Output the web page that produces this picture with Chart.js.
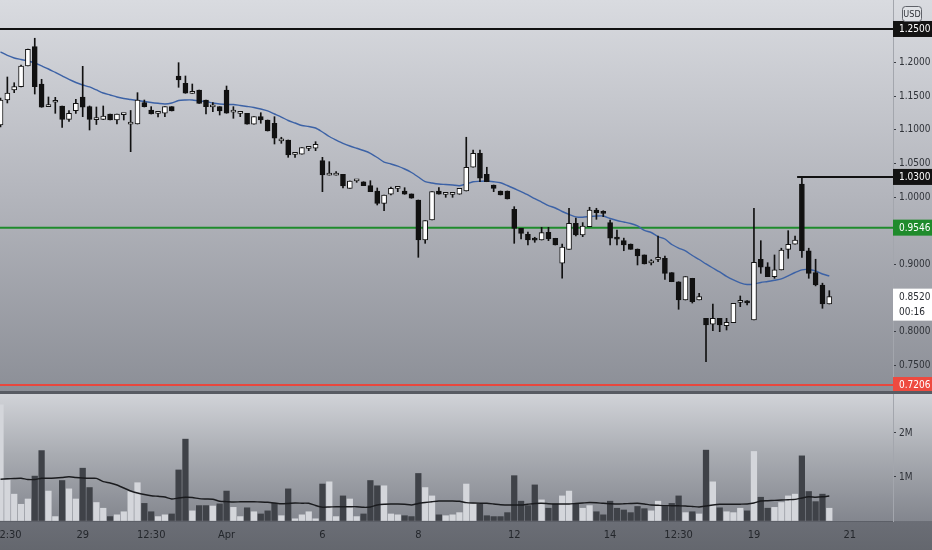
<!DOCTYPE html>
<html><head><meta charset="utf-8">
<script src="https://cdn.jsdelivr.net/npm/chart.js@4.4.1/dist/chart.umd.min.js"></script>
<style>
html,body{margin:0;padding:0;width:932px;height:550px;overflow:hidden;background:#8a8d95;}
#top{position:absolute;left:0;top:0;width:932px;height:391px;background:linear-gradient(to bottom,#d9dbe0 0%,#b3b5bc 50%,#8c8f97 100%);}
#sep{position:absolute;left:0;top:391px;width:932px;height:3px;background:#585b63;}
#bot{position:absolute;left:0;top:394px;width:932px;height:156px;background:linear-gradient(to bottom,#d1d3d8 0px,#a9acb2 60px,#83868e 127px,#6b6e76 127px,#64676e 156px);}
canvas{display:block;}
</style></head><body>
<div id="top"><canvas id="c1" width="932" height="391"></canvas></div>
<div id="sep"></div>
<div id="bot"><canvas id="c2" width="932" height="156"></canvas></div>
<script>
// ---------- data ----------
const open = [1.1072,1.1444,1.1593,1.1642,1.1950,1.2237,1.1682,1.1345,1.1410,1.1355,
1.1154,1.1285,1.1489,1.1348,1.1152,1.1157,1.1236,1.1147,1.1226,1.1085,
1.1087,1.1404,1.1296,1.1245,1.1247,1.1345,1.1801,1.1693,1.1542,1.1593,
1.1444,1.1343,1.1345,1.1593,1.1264,1.1245,1.1247,1.1083,1.1196,1.1147,
1.1098,1.0837,1.0849,1.0635,1.0637,1.0724,1.0726,1.0542,1.0327,1.0327,
1.0340,1.0131,1.0242,1.0229,1.0170,1.0091,0.9908,1.0042,1.0129,1.0091,
1.0047,0.9957,0.9362,0.9660,1.0091,1.0040,1.0040,1.0042,1.0091,1.0444,
1.0652,1.0340,1.0180,1.0091,1.0091,0.9819,0.9536,0.9447,0.9364,0.9362,
0.9477,0.9388,0.9017,0.9224,0.9611,0.9437,0.9560,0.9809,0.9762,0.9620,
0.9379,0.9352,0.9303,0.9229,0.9140,0.9023,0.9074,0.9090,0.8877,0.8742,
0.8470,0.8793,0.8470,0.8198,0.8109,0.8198,0.8088,0.8133,0.8434,0.8432,
0.8173,0.9076,0.8965,0.8817,0.8917,0.9224,0.9299,1.0195,0.9203,0.8877,
0.8693,0.8411];
const high = [1.1474,1.1786,1.1701,1.1965,1.2203,1.2362,1.1752,1.1489,1.1484,1.1355,
1.1288,1.1455,1.1945,1.1355,1.1340,1.1355,1.1236,1.1236,1.1232,1.1288,
1.1553,1.1444,1.1345,1.1249,1.1345,1.1345,1.1999,1.1801,1.1682,1.1593,
1.1444,1.1404,1.1345,1.1652,1.1345,1.1249,1.1247,1.1196,1.1255,1.1147,
1.1196,1.0890,1.0849,1.0639,1.0735,1.0728,1.0824,1.0592,1.0527,1.0378,
1.0340,1.0240,1.0246,1.0229,1.0244,1.0136,1.0032,1.0150,1.0133,1.0140,
1.0047,0.9957,0.9650,1.0081,1.0140,1.0044,1.0044,1.0131,1.0890,1.0701,
1.0701,1.0444,1.0180,1.0091,1.0091,0.9858,0.9536,0.9480,0.9403,0.9551,
0.9551,0.9388,0.9303,0.9834,0.9690,0.9621,0.9849,0.9834,0.9798,0.9660,
0.9511,0.9390,0.9303,0.9229,0.9140,0.9070,0.9422,0.9125,0.8877,0.8742,
0.8817,0.8793,0.8570,0.8198,0.8411,0.8198,0.8198,0.8421,0.8530,0.8460,
0.9834,0.9352,0.9025,0.9140,0.9240,0.9501,0.9422,1.0300,0.9240,0.9076,
0.8720,0.8609];
const low = [1.1043,1.1400,1.1553,1.1638,1.1950,1.1533,1.1336,1.1345,1.1246,1.1038,
1.1125,1.1246,1.1196,1.0998,1.1080,1.1152,1.1147,1.1087,1.1147,1.0676,
1.1087,1.1340,1.1236,1.1191,1.1196,1.1281,1.1633,1.1544,1.1542,1.1395,
1.1236,1.1270,1.1221,1.1247,1.1172,1.1196,1.1083,1.1083,1.1098,1.0983,
1.0790,1.0800,1.0592,1.0592,1.0637,1.0691,1.0691,1.0081,1.0327,1.0327,
1.0136,1.0131,1.0220,1.0170,1.0081,0.9883,0.9798,1.0032,1.0081,1.0042,
0.9983,0.9105,0.9313,0.9660,1.0042,0.9997,0.9997,1.0042,1.0091,1.0444,
1.0229,1.0229,1.0081,1.0032,0.9972,0.9313,0.9377,0.9288,0.9328,0.9362,
0.9352,0.9288,0.8793,0.9224,0.9422,0.9412,0.9560,0.9670,0.9709,0.9288,
0.9288,0.9203,0.9224,0.8991,0.9006,0.8991,0.9040,0.8778,0.8742,0.8332,
0.8470,0.8425,0.8470,0.7553,0.8014,0.7999,0.8024,0.8133,0.8371,0.8396,
0.8173,0.8867,0.8817,0.8793,0.8917,0.9090,0.9299,0.9105,0.8793,0.8680,
0.8347,0.8411];
const close = [1.1444,1.1548,1.1642,1.1950,1.2198,1.1642,1.1336,1.1350,1.1416,1.1157,
1.1246,1.1395,1.1336,1.1157,1.1157,1.1206,1.1147,1.1236,1.1232,1.1090,
1.1444,1.1345,1.1236,1.1249,1.1345,1.1281,1.1742,1.1544,1.1546,1.1395,
1.1345,1.1347,1.1281,1.1247,1.1268,1.1249,1.1083,1.1196,1.1147,1.0983,
1.0875,1.0841,1.0626,1.0639,1.0735,1.0728,1.0785,1.0329,1.0331,1.0331,
1.0165,1.0240,1.0246,1.0170,1.0081,0.9908,1.0032,1.0131,1.0133,1.0042,
0.9983,0.9362,0.9650,1.0081,1.0042,1.0044,1.0044,1.0131,1.0444,1.0652,
1.0280,1.0229,1.0131,1.0032,0.9972,0.9536,0.9462,0.9362,0.9360,0.9471,
0.9377,0.9288,0.9256,0.9611,0.9437,0.9571,0.9809,0.9769,0.9758,0.9388,
0.9375,0.9288,0.9224,0.9125,0.9006,0.9027,0.9078,0.8867,0.8742,0.8470,
0.8817,0.8445,0.8520,0.8098,0.8198,0.8098,0.8139,0.8421,0.8438,0.8428,
0.9031,0.8957,0.8817,0.8917,0.9214,0.9299,0.9362,0.9203,0.8867,0.8693,
0.8411,0.8520];
const priceMA = [1.2158,1.2106,1.2069,1.2046,1.2024,1.1994,1.1950,1.1905,1.1853,1.1801,
1.1749,1.1704,1.1667,1.1638,1.1593,1.1548,1.1519,1.1489,1.1467,1.1452,
1.1437,1.1422,1.1407,1.1395,1.1385,1.1400,1.1437,1.1444,1.1444,1.1429,
1.1422,1.1400,1.1385,1.1377,1.1377,1.1362,1.1348,1.1333,1.1310,1.1281,
1.1236,1.1191,1.1139,1.1102,1.1065,1.1050,1.1028,1.0968,1.0901,1.0849,
1.0800,1.0760,1.0726,1.0693,1.0652,1.0589,1.0522,1.0493,1.0460,1.0418,
1.0366,1.0299,1.0229,1.0210,1.0195,1.0188,1.0180,1.0170,1.0195,1.0229,
1.0235,1.0240,1.0229,1.0213,1.0173,1.0128,1.0081,1.0032,0.9976,0.9927,
0.9875,0.9838,0.9786,0.9742,0.9707,0.9700,0.9712,0.9719,0.9719,0.9682,
0.9652,0.9630,0.9608,0.9571,0.9504,0.9474,0.9414,0.9377,0.9295,0.9243,
0.9199,0.9132,0.9072,0.9006,0.8946,0.8887,0.8820,0.8768,0.8726,0.8701,
0.8708,0.8730,0.8745,0.8763,0.8783,0.8830,0.8879,0.8919,0.8923,0.8901,
0.8857,0.8827];
const volume = [2.64,0.93,0.61,0.38,0.50,1.02,1.60,0.68,0.10,0.92,
0.73,0.50,1.20,0.76,0.42,0.29,0.10,0.14,0.21,0.67,
0.87,0.40,0.21,0.10,0.14,0.16,1.16,1.86,0.23,0.35,
0.35,0.34,0.39,0.68,0.31,0.10,0.30,0.21,0.16,0.23,
0.40,0.12,0.73,0.05,0.14,0.21,0.05,0.84,0.89,0.10,
0.57,0.50,0.10,0.16,0.92,0.80,0.80,0.16,0.14,0.12,
0.10,1.08,0.76,0.57,0.14,0.12,0.14,0.19,0.84,0.39,
0.39,0.12,0.10,0.10,0.19,1.03,0.45,0.35,0.82,0.48,
0.29,0.39,0.57,0.68,0.39,0.29,0.35,0.21,0.14,0.45,
0.29,0.25,0.19,0.33,0.28,0.23,0.45,0.33,0.40,0.57,
0.19,0.21,0.16,1.61,0.89,0.30,0.21,0.19,0.29,0.23,
1.58,0.54,0.29,0.31,0.42,0.57,0.61,1.48,0.67,0.44,
0.61,0.29];
const volumeMA = [0.948,0.959,0.966,0.970,0.943,0.943,0.970,0.970,0.977,0.989,
1.005,0.989,0.977,0.970,0.970,0.893,0.864,0.818,0.750,0.682,
0.636,0.602,0.575,0.561,0.545,0.500,0.523,0.539,0.534,0.509,
0.500,0.493,0.450,0.441,0.432,0.436,0.439,0.436,0.432,0.425,
0.409,0.391,0.398,0.409,0.405,0.402,0.352,0.314,0.318,0.325,
0.325,0.325,0.325,0.311,0.318,0.364,0.382,0.386,0.386,0.380,
0.364,0.398,0.420,0.439,0.455,0.455,0.455,0.448,0.418,0.409,
0.405,0.402,0.386,0.368,0.364,0.364,0.364,0.382,0.398,0.402,
0.393,0.386,0.386,0.386,0.398,0.409,0.420,0.414,0.402,0.393,
0.386,0.391,0.398,0.402,0.386,0.364,0.357,0.350,0.348,0.345,
0.341,0.330,0.318,0.341,0.364,0.380,0.380,0.380,0.382,0.386,
0.409,0.455,0.461,0.468,0.477,0.484,0.491,0.523,0.552,0.541,
0.550,0.568];
const xTickIdx = [1,12,22,33,47,61,75,89,99,110,124];
const xTickText = ['12:30','29','12:30','Apr','6','8','12','14','12:30','19','21'];
const levelValues = [1.25, 1.03, 0.9546, 0.7206];
const levelStartIdx = [null, 116.3, null, null];
const tagValues = [1.25, 1.03, 0.9546, 0.852, 0.7206];
const tagSubText = ['', '', '', '00:16', ''];
const currency = 'USD';
const volTickValues = [1, 2];
const volTickText = ['1M', '2M'];

// ---------- styles / view ----------
const levelColors = ['#111111','#111111','#1f8b2c','#e8473e'];
const tagBg = ['#131313','#131313','#1f8b2c','#ffffff','#ee4a3f'];
const tagFg = ['#ffffff','#ffffff','#ffffff','#2a2d33','#ffffff'];
const X_MIN = -0.073, X_MAX = 130.3;
const Y_MIN = 0.7117, Y_MAX = 1.2931;
const V_MAX = 2.886;
const AXIS_W = 39;
const FONT = "'Liberation Sans Narrow','DejaVu Sans Condensed','Liberation Sans',sans-serif";
const FS = 10;
Chart.defaults.font.family = FONT;
Chart.defaults.font.size = FS;

const idx = open.map((_, i) => i);
const isUp = i => close[i] >= open[i];

function fixY(s){ s.width = AXIS_W; s.paddingTop = 0; s.paddingBottom = 0; }
function fixX(s){ s.paddingLeft = 0; s.paddingRight = 0; }

const tagPlugin = {
  id: 'tags',
  afterDraw(chart){
    const ctx = chart.ctx, ys = chart.scales.y, x0 = ys.left, w = chart.width - x0;
    ctx.save();
    ctx.font = FS + 'px ' + FONT;
    ctx.textBaseline = 'middle';
    ctx.textAlign = 'left';
    tagValues.forEach((v, k) => {
      const y = ys.getPixelForValue(v);
      const two = tagSubText[k] !== '';
      const h = two ? 32 : 16;
      ctx.fillStyle = tagBg[k];
      ctx.fillRect(x0, y - 8, w, h);
      ctx.fillStyle = tagFg[k];
      ctx.fillText(v.toFixed(4), x0 + 6, y + 0.5);
      if (two) ctx.fillText(tagSubText[k], x0 + 6, y + 15.5);
    });
    ctx.beginPath();
    ctx.roundRect(902.5, 6.5, 19, 15, 3);
    ctx.fillStyle = '#e0e2e6'; ctx.fill();
    ctx.strokeStyle = '#5f6269'; ctx.lineWidth = 1; ctx.stroke();
    ctx.fillStyle = '#2e3137';
    ctx.font = '9px ' + FONT;
    ctx.textAlign = 'center';
    ctx.fillText(currency, 912, 14.5);
    ctx.restore();
  }
};

const priceDatasets = [
  { type:'bar', label:'body', order:0, grouped:false,
    data: idx.map(i => ({x:i, y:[open[i], close[i]]})),
    backgroundColor: idx.map(i => isUp(i) ? '#ffffff' : '#111111'),
    borderColor:'#111111', borderWidth:1, borderSkipped:false,
    barThickness:5, minBarLength:2 },
  { type:'bar', label:'wick', order:1, grouped:false,
    data: idx.map(i => ({x:i, y:[low[i], high[i]]})),
    backgroundColor:'#111111', borderWidth:0, barThickness:1 },
  { type:'line', label:'MA', order:2,
    data: idx.map(i => ({x:i, y:priceMA[i]})),
    borderColor:'#3c62a6', borderWidth:1.4, pointRadius:0, tension:0.25 }
];
levelValues.forEach((v, k) => {
  priceDatasets.push({ type:'line', label:'level'+k, order:3,
    data:[{x: levelStartIdx[k] === null ? X_MIN : levelStartIdx[k], y:v}, {x:X_MAX, y:v}],
    borderColor: levelColors[k], borderWidth:2, pointRadius:0 });
});

new Chart(document.getElementById('c1'), {
  type:'bar',
  data:{ datasets: priceDatasets },
  options:{
    responsive:false, animation:false, events:[],
    layout:{padding:0},
    plugins:{legend:{display:false}, tooltip:{enabled:false}},
    scales:{
      x:{ type:'linear', offset:false, min:X_MIN, max:X_MAX, display:false, afterFit:fixX,
          grid:{offset:false} },
      y:{ type:'linear', position:'right', min:Y_MIN, max:Y_MAX, afterFit:fixY,
          border:{display:true, color:'#a3a6ad', width:1},
          grid:{drawOnChartArea:false, drawTicks:true, tickLength:3, color:'#3a3d44'},
          ticks:{ stepSize:0.05, includeBounds:false, padding:3, color:'#2f3238',
            callback:(v) => tagValues.some(t => Math.abs(t - v) < 0.011) ? '' : Number(v).toFixed(4) } }
    }
  },
  plugins:[tagPlugin]
});

new Chart(document.getElementById('c2'), {
  type:'bar',
  data:{ datasets:[
    { type:'line', label:'Vol MA', order:0,
      data: idx.map(i => ({x:i, y:volumeMA[i]})),
      borderColor:'#1a1b1e', borderWidth:1.4, pointRadius:0, tension:0.2 },
    { type:'bar', label:'Volume', order:1,
      data: idx.map(i => ({x:i, y:volume[i]})),
      backgroundColor: idx.map(i => isUp(i) ? '#d4d6db' : '#3f4248'),
      borderWidth:0, barThickness:5.6 }
  ]},
  options:{
    responsive:false, animation:false, events:[],
    layout:{padding:0},
    plugins:{legend:{display:false}, tooltip:{enabled:false}},
    scales:{
      x:{ type:'linear', offset:false, min:X_MIN, max:X_MAX,
          afterFit:(s) => { s.height = 29; s.paddingLeft = 0; s.paddingRight = 0; },
          afterBuildTicks:(s) => { s.ticks = xTickIdx.map(v => ({value:v})); },
          grid:{display:false, drawTicks:false, offset:false},
          border:{display:true, color:'#5c5f67', width:1},
          ticks:{ autoSkip:false, maxRotation:0, minRotation:0, padding:8, color:'#24272c',
            font:{size:11},
            callback:(v) => { const k = xTickIdx.indexOf(v); return k >= 0 ? xTickText[k] : ''; } } },
      y:{ type:'linear', position:'right', min:0, max:V_MAX, afterFit:fixY,
          border:{display:true, color:'#a3a6ad', width:1},
          grid:{drawOnChartArea:false, drawTicks:true, tickLength:3,
                color:(c) => (c.tick && c.tick.value === 0) ? 'rgba(0,0,0,0)' : '#3a3d44'},
          ticks:{ stepSize:1, includeBounds:false, padding:3, color:'#2f3238',
            callback:(v) => { const k = volTickValues.indexOf(v); return k >= 0 ? volTickText[k] : ''; } } }
    }
  }
});
</script>
</body></html>
